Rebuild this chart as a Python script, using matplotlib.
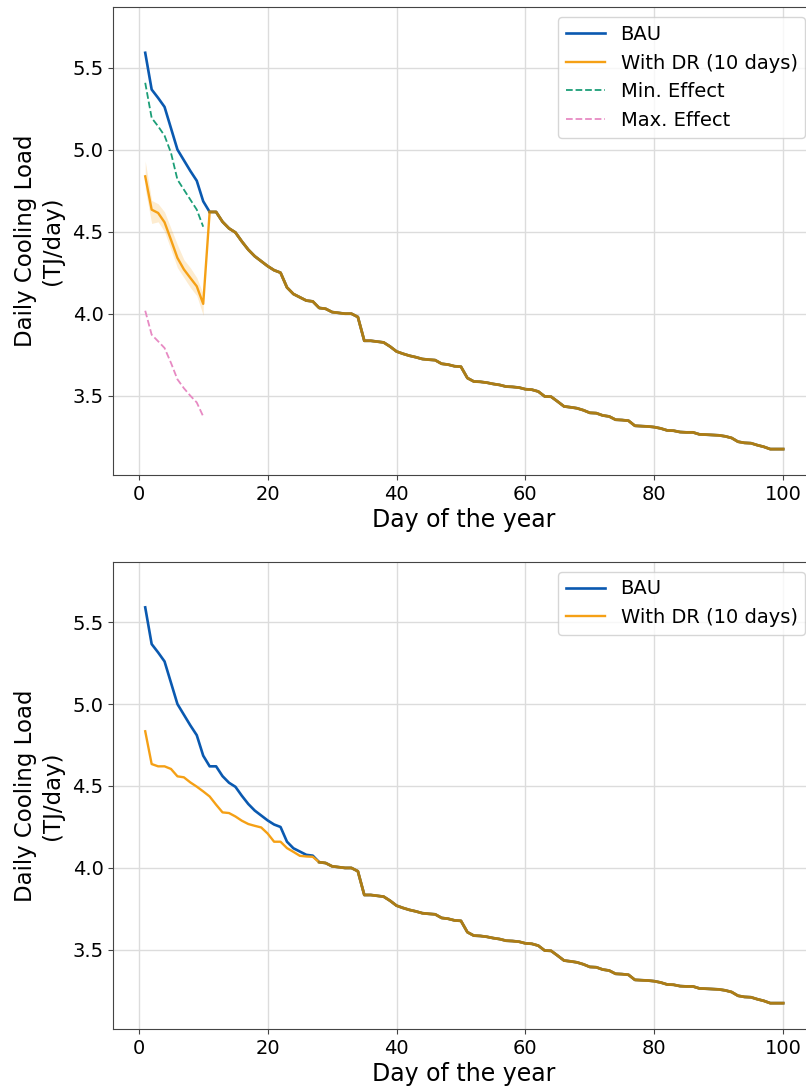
import matplotlib
matplotlib.use("Agg")
import matplotlib.pyplot as plt
import numpy as np

# 天数
days = np.arange(1, 101)

# BAU 日冷负荷 (TJ/day)
bau = [5.59, 5.366, 5.315, 5.26, 5.13, 5.00, 4.935, 4.87, 4.81, 4.685,
       4.62, 4.62, 4.56, 4.52, 4.495, 4.44, 4.39, 4.35, 4.32, 4.29,
       4.265, 4.25, 4.16, 4.12, 4.10, 4.08, 4.075, 4.035, 4.03, 4.01,
       4.005, 4.0, 4.0, 3.98, 3.835, 3.835, 3.83, 3.825, 3.80, 3.77,
       3.756, 3.744, 3.735, 3.724, 3.72, 3.717, 3.695, 3.69, 3.68, 3.677,
       3.608, 3.587, 3.585, 3.58, 3.572, 3.566, 3.556, 3.554, 3.55, 3.54,
       3.537, 3.526, 3.496, 3.494, 3.465, 3.435, 3.43, 3.424, 3.412, 3.396,
       3.394, 3.38, 3.374, 3.354, 3.352, 3.348, 3.317, 3.315, 3.313, 3.309,
       3.301, 3.289, 3.287, 3.279, 3.277, 3.277, 3.265, 3.263, 3.261, 3.259,
       3.253, 3.243, 3.22, 3.213, 3.211, 3.199, 3.189, 3.175, 3.175, 3.175]

# 上图: DR 前10天, 之后与 BAU 相同
dr_top_first = [4.837, 4.634, 4.614, 4.557, 4.45, 4.34, 4.27, 4.218, 4.167, 4.06]
dr_top_low = [4.76, 4.55, 4.56, 4.50, 4.39, 4.28, 4.22, 4.16, 4.11, 3.99]
dr_top_high = [4.93, 4.69, 4.67, 4.62, 4.52, 4.42, 4.33, 4.28, 4.22, 4.12]
min_effect = [5.407, 5.193, 5.142, 5.085, 4.98, 4.817, 4.756, 4.695, 4.634, 4.53]
max_effect = [4.018, 3.872, 3.832, 3.791, 3.70, 3.60, 3.546, 3.50, 3.459, 3.374]

# 下图: DR 前27天, 之后与 BAU 相同
dr_bot_first = [4.834, 4.634, 4.620, 4.620, 4.604, 4.559, 4.553, 4.522, 4.496, 4.467,
                4.436, 4.386, 4.339, 4.335, 4.314, 4.288, 4.268, 4.257, 4.247, 4.210,
                4.160, 4.160, 4.121, 4.098, 4.074, 4.070, 4.068]

c_bau = "#0a59b0"
c_dr = "#f5a015"
c_both = "#ab7c16"
c_min = "#1b9e77"
c_max = "#e78ac3"

bau = np.array(bau)
dr_top = np.concatenate([dr_top_first, bau[len(dr_top_first):]])
dr_bot = np.concatenate([dr_bot_first, bau[len(dr_bot_first):]])


def style_axis(ax):
    ax.set_xlim(-3.95, 104.95)
    ax.set_ylim(3.017, 5.867)
    ax.set_yticks([3.5, 4.0, 4.5, 5.0, 5.5])
    ax.set_xticks([0, 20, 40, 60, 80, 100])
    ax.grid(True, color="#dcdcdc", linewidth=1.0)
    ax.set_axisbelow(True)
    ax.tick_params(labelsize=14, color="#444444")
    for s in ax.spines.values():
        s.set_color("#444444")
    ax.set_xlabel("Day of the year", fontsize=17, labelpad=3)
    ax.set_ylabel("Daily Cooling Load\n(TJ/day)", fontsize=16.5, labelpad=6)


def draw_lines(ax, dr):
    ax.plot(days, bau, color=c_bau, linewidth=1.9, label="BAU")
    ax.plot(days, dr, color=c_dr, linewidth=1.7, label="With DR (10 days)")
    # 两条线重合的部分
    shared = np.where(np.isclose(dr, bau), bau, np.nan)
    ax.plot(days, shared, color=c_both, linewidth=2.0, label="_nolegend_")


fig = plt.figure(figsize=(8.06, 10.91), dpi=100)
ax1 = fig.add_axes([0.1406, 0.5646, 0.8706, 0.4287])
ax2 = fig.add_axes([0.1406, 0.0568, 0.8706, 0.4281])

style_axis(ax1)
ax1.fill_between(days[:10], dr_top_low, dr_top_high, color=c_dr, alpha=0.2, linewidth=0)
draw_lines(ax1, dr_top)
ax1.plot(days[:10], min_effect, color=c_min, linewidth=1.3, linestyle="--", label="Min. Effect")
ax1.plot(days[:10], max_effect, color=c_max, linewidth=1.3, linestyle="--", label="Max. Effect")
ax1.legend(loc="upper right", fontsize=14)

style_axis(ax2)
draw_lines(ax2, dr_bot)
ax2.legend(loc="upper right", fontsize=14)

fig.savefig("out.png", dpi=100)
